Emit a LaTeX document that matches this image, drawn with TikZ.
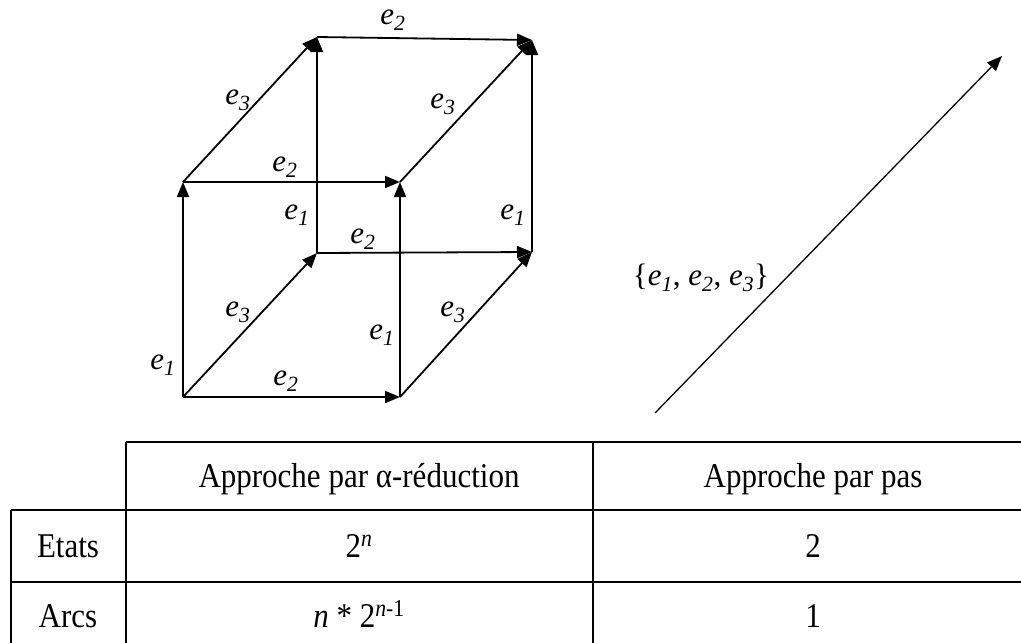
\documentclass[tikz,border=0pt]{standalone}
\usepackage{fontspec}
\setmainfont{Liberation Serif}
\usetikzlibrary{arrows.meta}
\newcommand{\ee}[1]{\textit{e}\textsubscript{\textit{#1}}}
\newcommand{\tall}[1]{\scalebox{1}[1.12]{#1}}
\begin{document}
\begin{tikzpicture}[x=1pt,y=-1pt,
  edge/.style={line width=1.8pt,-{Triangle[length=15pt,width=12pt]}},
  thinedge/.style={line width=1.3pt,-{Triangle[length=15pt,width=12pt]}},
  lab/.style={font=\fontsize{31}{37}\selectfont, inner sep=0pt},
  cell/.style={font=\fontsize{31}{37}\selectfont, inner sep=0pt, anchor=base},
  rulee/.style={line width=2.8pt}]
\useasboundingbox (0,0) rectangle (1021,643);
% cube vertices
\coordinate (A) at (183,397);
\coordinate (B) at (400,397);
\coordinate (C) at (183,182);
\coordinate (D) at (400,182);
\coordinate (E) at (317,253);
\coordinate (F) at (532,252);
\coordinate (G) at (317,37);
\coordinate (H) at (532,40);
% cube edges
\draw[edge] (A) -- (B);
\draw[edge] (A) -- (C);
\draw[edge] (A) -- (E);
\draw[edge] (C) -- (D);
\draw[edge] (C) -- (G);
\draw[edge] (B) -- (D);
\draw[edge] (B) -- (F);
\draw[edge] (E) -- (F);
\draw[edge] (E) -- (G);
\draw[edge] (D) -- (H);
\draw[edge] (G) -- (H);
\draw[edge] (F) -- (H);
% cube labels
\node[lab] (lGH) at (393,20) {\ee{2}};
\node[lab] (lCG) at (238,100) {\ee{3}};
\node[lab] (lDH) at (443,104) {\ee{3}};
\node[lab] (lCD) at (285,167) {\ee{2}};
\node[lab] (lEG) at (297,215) {\ee{1}};
\node[lab] (lFH) at (513,215) {\ee{1}};
\node[lab] (lEF) at (363,239) {\ee{2}};
\node[lab] (lAE) at (238,312) {\ee{3}};
\node[lab] (lAC) at (163,365) {\ee{1}};
\node[lab] (lBD) at (382,335) {\ee{1}};
\node[lab] (lBF) at (453,312) {\ee{3}};
\node[lab] (lAB) at (286,381) {\ee{2}};
% step arrow
\coordinate (s0) at (655,413);
\coordinate (s1) at (1002,56);
\draw[thinedge] (s0) -- (s1);
\node[lab] (set) at (701,278) {\{\ee{1}, \ee{2}, \ee{3}\}};
% table
\draw[rulee] (126,442) -- (1021,442);
\draw[rulee] (11,510) -- (1021,510);
\draw[rulee] (11,582) -- (1021,582);
\draw[rulee] (11,510) -- (11,643);
\draw[rulee] (126,442) -- (126,643);
\draw[rulee] (593,442) -- (593,643);
\node[cell] (h1) at (359,487) {\tall{Approche par α-réduction}};
\node[cell] (h2) at (813,487) {\tall{Approche par pas}};
\node[cell] (r1) at (68,557) {\tall{Etats}};
\node[cell] (r1a) at (359,557) {\tall{2\textsuperscript{\textit{n}}}};
\node[cell] (r1b) at (813,557) {\tall{2}};
\node[cell] (r2) at (68,627) {\tall{Arcs}};
\node[cell] (r2a) at (359,627) {\tall{\textit{n} * 2\textsuperscript{\textit{n}-1}}};
\node[cell] (r2b) at (813,627) {\tall{1}};
\end{tikzpicture}
\end{document}
